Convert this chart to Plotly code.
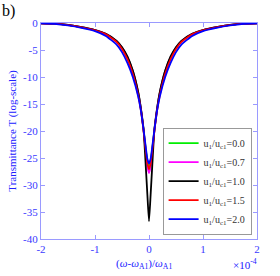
import plotly.graph_objects as go

x_vals = [-2, -1.75, -1.5, -1.25, -1.0, -0.8, -0.6, -0.5, -0.4, -0.3, -0.2, -0.15, -0.1, -0.06, -0.03, 0,
          0.03, 0.06, 0.1, 0.15, 0.2, 0.3, 0.4, 0.5, 0.6, 0.8, 1.0, 1.25, 1.5, 1.75, 2]

t_u00 = [-0.05, -0.12, -0.36, -0.76, -1.3, -2.0, -3.35, -4.55, -6.3, -8.9, -12.9, -15.9, -19.8, -23.4, -25.6, -26.4,
         -25.6, -23.4, -19.8, -15.9, -12.9, -8.9, -6.3, -4.55, -3.35, -2.0, -1.3, -0.76, -0.36, -0.12, -0.05]
t_u07 = [-0.05, -0.12, -0.36, -0.76, -1.3, -2.0, -3.35, -4.55, -6.3, -8.9, -12.9, -15.9, -19.9, -24.0, -26.6, -27.8,
         -26.6, -24.0, -19.9, -15.9, -12.9, -8.9, -6.3, -4.55, -3.35, -2.0, -1.3, -0.76, -0.36, -0.12, -0.05]
t_u10 = [-0.05, -0.12, -0.35, -0.75, -1.3, -2.0, -3.3, -4.5, -6.2, -8.8, -12.8, -15.8, -19.8, -26.5, -31.8, -36.7,
         -31.8, -26.5, -19.8, -15.8, -12.8, -8.8, -6.2, -4.5, -3.3, -2.0, -1.3, -0.75, -0.35, -0.12, -0.05]
t_u15 = [-0.05, -0.13, -0.4, -0.8, -1.35, -2.1, -3.5, -4.8, -6.7, -9.4, -13.4, -16.2, -20.0, -23.6, -26.0, -27.1,
         -26.0, -23.6, -20.0, -16.2, -13.4, -9.4, -6.7, -4.8, -3.5, -2.1, -1.35, -0.8, -0.4, -0.13, -0.05]
t_u20 = [-0.05, -0.15, -0.45, -0.9, -1.5, -2.4, -4.0, -5.4, -7.4, -10.0, -13.6, -16.2, -19.8, -23.0, -25.2, -26.0,
         -25.2, -23.0, -19.8, -16.2, -13.6, -10.0, -7.4, -5.4, -4.0, -2.4, -1.5, -0.9, -0.45, -0.15, -0.05]

series_names = ["u<sub>1</sub>/u<sub>c1</sub>=0.0", "u<sub>1</sub>/u<sub>c1</sub>=0.7",
                "u<sub>1</sub>/u<sub>c1</sub>=1.0", "u<sub>1</sub>/u<sub>c1</sub>=1.5",
                "u<sub>1</sub>/u<sub>c1</sub>=2.0"]
series_vals = [t_u00, t_u07, t_u10, t_u15, t_u20]
series_colors = ["#00ee00", "#ff00ff", "#000000", "#ff0000", "#0000ff"]

x_ticks = [-2, -1, 0, 1, 2]
x_ticktext = ["-2", "-1", "0", "1", "2"]
y_ticks = [0, -5, -10, -15, -20, -25, -30, -35, -40]
y_ticktext = ["0", "-5", "-10", "-15", "-20", "-25", "-30", "-35", "-40"]

FONT = "Liberation Serif"
AXIS_COLOR = "#9a9aff"
LABEL_COLOR = "#3a3aff"

fig = go.Figure()
for name, vals, col in zip(series_names, series_vals, series_colors):
    fig.add_trace(go.Scatter(x=x_vals, y=vals, mode="lines", name=name,
                             line=dict(color=col, width=1.8, shape="spline", smoothing=0.5)))

axis_common = dict(showline=True, linecolor=AXIS_COLOR, linewidth=1.2, mirror="ticks",
                   ticks="inside", ticklen=4, tickcolor=AXIS_COLOR, showgrid=False, zeroline=False,
                   tickfont=dict(family=FONT, size=11, color=LABEL_COLOR))

fig.update_layout(
    width=280, height=276,
    margin=dict(l=41, r=23, t=23, b=37),
    paper_bgcolor="white", plot_bgcolor="white",
    font=dict(family=FONT, size=11, color=LABEL_COLOR),
    xaxis=dict(range=[-2, 2], tickvals=x_ticks, ticktext=x_ticktext, **axis_common),
    yaxis=dict(range=[-40, 0], tickvals=y_ticks, ticktext=y_ticktext,
               title=dict(text="Transmittance T (log-scale)", font=dict(family=FONT, size=11, color="#2020ff"),
                          standoff=4),
               **axis_common),
    legend=dict(x=0.975, y=0.02, xanchor="right", yanchor="bottom",
                bgcolor="white", bordercolor="#999999", borderwidth=1,
                font=dict(family=FONT, size=10, color="#333333"),
                tracegroupgap=0, itemwidth=30),
    showlegend=True,
    annotations=[
        dict(text="b)", x=0, y=1, xref="paper", yref="paper", xanchor="left", yanchor="top",
             showarrow=False, font=dict(family=FONT, size=16, color="black"), xshift=-41, yshift=23),
        dict(text="(<i>ω</i>-<i>ω</i><sub>A1</sub>)/<i>ω</i><sub>A1</sub>", x=0.5, y=0, xref="paper", yref="paper",
             xanchor="center", yanchor="top", showarrow=False, yshift=-16, xshift=-5,
             font=dict(family=FONT, size=11, color="#2020ff")),
        dict(text="×10<sup>-4</sup>", x=1, y=0, xref="paper", yref="paper",
             xanchor="right", yanchor="top", showarrow=False, yshift=-16, xshift=2,
             font=dict(family=FONT, size=11, color="#2020ff")),
    ],
)

fig.write_html("out.html", config={"displayModeBar": False},
               post_script="document.body.style.margin='0';document.body.style.overflow='hidden';")
